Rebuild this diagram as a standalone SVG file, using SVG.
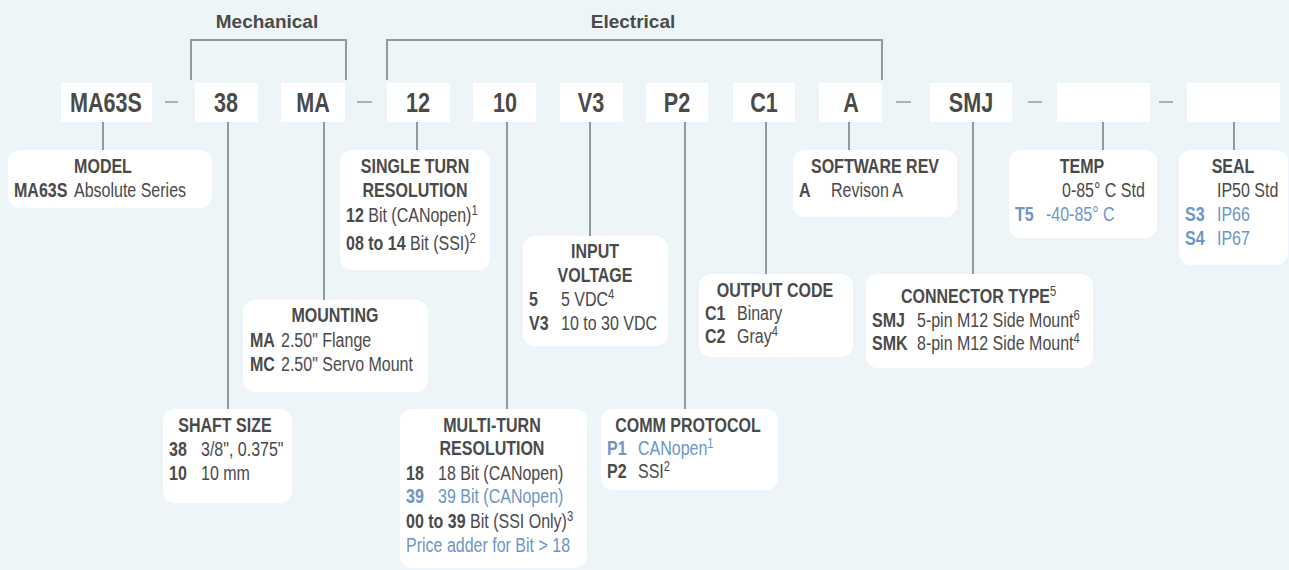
<svg xmlns="http://www.w3.org/2000/svg" width="1289" height="570" viewBox="0 0 1289 570">
<style>
text{font-family:"Liberation Sans",Arial,sans-serif;fill:#4a4a4a;font-size:20px}
.h{font-weight:bold;font-size:19px;text-anchor:middle}
.c{font-weight:bold;font-size:27px;text-anchor:middle}
.t{font-weight:bold;text-anchor:middle}
.k{font-weight:bold}
.bl{fill:#6d95c6}
.s{font-size:14px;font-weight:normal}
.box{fill:#ffffff}
.ln{stroke:#8c9d9d;stroke-width:2;fill:none}
.d{stroke:#a7b5b5;stroke-width:2}
</style>
<rect width="1289" height="570" fill="#edf5f8"/>
<g id="headers">
<text class="h" x="267" y="28">Mechanical</text>
<text class="h" x="633" y="28">Electrical</text>
</g>
<g id="connectors">
<path class="ln" d="M191,80V40H346V80"/>
<path class="ln" d="M387,80V40H882V80"/>
<line class="ln" x1="103" y1="122" x2="103" y2="150"/>
<line class="ln" x1="228" y1="122" x2="228" y2="409"/>
<line class="ln" x1="324" y1="122" x2="324" y2="300"/>
<line class="ln" x1="417" y1="122" x2="417" y2="150"/>
<line class="ln" x1="507" y1="122" x2="507" y2="409"/>
<line class="ln" x1="590" y1="122" x2="590" y2="236"/>
<line class="ln" x1="685" y1="122" x2="685" y2="409"/>
<line class="ln" x1="766" y1="122" x2="766" y2="274"/>
<line class="ln" x1="849" y1="122" x2="849" y2="150"/>
<line class="ln" x1="973" y1="122" x2="973" y2="274"/>
<line class="ln" x1="1103" y1="122" x2="1103" y2="150"/>
<line class="ln" x1="1234" y1="122" x2="1234" y2="150"/>
<line class="d" x1="165" y1="102" x2="178" y2="102"/>
<line class="d" x1="357" y1="102" x2="372" y2="102"/>
<line class="d" x1="896" y1="102" x2="911" y2="102"/>
<line class="d" x1="1028" y1="102" x2="1042" y2="102"/>
<line class="d" x1="1159" y1="102" x2="1173" y2="102"/>
</g>
<g id="code-MA63S"><rect class="box" x="61" y="83" width="91" height="39"/><text class="c" transform="scale(0.8,1)" x="132.5" y="112">MA63S</text></g>
<g id="code-38"><rect class="box" x="195" y="83" width="63" height="39"/><text class="c" transform="scale(0.8,1)" x="282.5" y="112">38</text></g>
<g id="code-MA"><rect class="box" x="281" y="83" width="64" height="39"/><text class="c" transform="scale(0.8,1)" x="391.25" y="112">MA</text></g>
<g id="code-12"><rect class="box" x="387" y="83" width="63" height="39"/><text class="c" transform="scale(0.8,1)" x="522.5" y="112">12</text></g>
<g id="code-10"><rect class="box" x="473" y="83" width="63" height="39"/><text class="c" transform="scale(0.8,1)" x="631.25" y="112">10</text></g>
<g id="code-V3"><rect class="box" x="560" y="83" width="63" height="39"/><text class="c" transform="scale(0.8,1)" x="738.75" y="112">V3</text></g>
<g id="code-P2"><rect class="box" x="646" y="83" width="62" height="39"/><text class="c" transform="scale(0.8,1)" x="846.25" y="112">P2</text></g>
<g id="code-C1"><rect class="box" x="733" y="83" width="62" height="39"/><text class="c" transform="scale(0.8,1)" x="955" y="112">C1</text></g>
<g id="code-A"><rect class="box" x="819" y="83" width="63" height="39"/><text class="c" transform="scale(0.8,1)" x="1063.75" y="112">A</text></g>
<g id="code-SMJ"><rect class="box" x="930" y="83" width="82" height="39"/><text class="c" transform="scale(0.8,1)" x="1213.75" y="112">SMJ</text></g>
<g id="code-blank1"><rect class="box" x="1057" y="83" width="93" height="39"/></g>
<g id="code-blank2"><rect class="box" x="1187" y="83" width="93" height="39"/></g>

<g id="model"><rect class="box" x="8" y="150" width="204" height="58" rx="12"/>
<g transform="scale(0.8,1)">
<text class="t" x="128.75" y="173">MODEL</text>
<text class="k" x="17.5" y="197">MA63S</text><text x="92.5" y="197">Absolute Series</text></g></g>

<g id="single-turn"><rect class="box" x="340" y="150" width="150" height="120" rx="12"/>
<g transform="scale(0.8,1)">
<text class="t" x="518.75" y="173">SINGLE TURN</text>
<text class="t" x="518.75" y="197">RESOLUTION</text>
<text x="432.5" y="222"><tspan class="k">12</tspan> Bit (CANopen)<tspan class="s" dy="-7">1</tspan></text>
<text x="432.5" y="250"><tspan class="k">08 to 14</tspan> Bit (SSI)<tspan class="s" dy="-7">2</tspan></text></g></g>

<g id="software-rev"><rect class="box" x="793" y="150" width="164" height="67" rx="12"/>
<g transform="scale(0.8,1)">
<text class="t" x="1093.75" y="173">SOFTWARE REV</text>
<text class="k" x="998.75" y="197">A</text><text x="1038.75" y="197">Revison A</text></g></g>

<g id="temp"><rect class="box" x="1009" y="150" width="148" height="88" rx="12"/>
<g transform="scale(0.8,1)">
<text class="t" x="1352.5" y="173">TEMP</text>
<text x="1327.5" y="197">0-85° C Std</text>
<text class="k bl" x="1268.75" y="221">T5</text><text class="bl" x="1307.5" y="221">-40-85° C</text></g></g>

<g id="seal"><rect class="box" x="1179" y="150" width="109" height="115" rx="12"/>
<g transform="scale(0.8,1)">
<text class="t" x="1541.25" y="173">SEAL</text>
<text x="1521.25" y="197">IP50 Std</text>
<text class="k bl" x="1481.25" y="221">S3</text><text class="bl" x="1521.25" y="221">IP66</text>
<text class="k bl" x="1481.25" y="245">S4</text><text class="bl" x="1521.25" y="245">IP67</text></g></g>

<g id="input-voltage"><rect class="box" x="523" y="236" width="145" height="110" rx="12"/>
<g transform="scale(0.8,1)">
<text class="t" x="743.75" y="258">INPUT</text>
<text class="t" x="743.75" y="282">VOLTAGE</text>
<text class="k" x="661.25" y="306">5</text><text x="701.25" y="306">5 VDC<tspan class="s" dy="-7">4</tspan></text>
<text class="k" x="661.25" y="330">V3</text><text x="701.25" y="330">10 to 30 VDC</text></g></g>

<g id="output-code"><rect class="box" x="699" y="274" width="154" height="83" rx="12"/>
<g transform="scale(0.8,1)">
<text class="t" x="968.75" y="297">OUTPUT CODE</text>
<text class="k" x="881.25" y="320">C1</text><text x="921.25" y="320">Binary</text>
<text class="k" x="881.25" y="343">C2</text><text x="921.25" y="343">Gray<tspan class="s" dy="-7">4</tspan></text></g></g>

<g id="connector-type"><rect class="box" x="866" y="274" width="227" height="94" rx="12"/>
<g transform="scale(0.8,1)">
<text class="k" x="1126.25" y="303">CONNECTOR TYPE<tspan class="s" dy="-7">5</tspan></text>
<text class="k" x="1090" y="327">SMJ</text><text x="1146.25" y="327">5-pin M12 Side Mount<tspan class="s" dy="-7">6</tspan></text>
<text class="k" x="1090" y="350">SMK</text><text x="1146.25" y="350">8-pin M12 Side Mount<tspan class="s" dy="-7">4</tspan></text></g></g>

<g id="mounting"><rect class="box" x="243" y="300" width="185" height="92" rx="12"/>
<g transform="scale(0.8,1)">
<text class="t" x="418.75" y="322">MOUNTING</text>
<text class="k" x="312.5" y="347">MA</text><text x="351.25" y="347">2.50" Flange</text>
<text class="k" x="312.5" y="371">MC</text><text x="351.25" y="371">2.50" Servo Mount</text></g></g>

<g id="shaft-size"><rect class="box" x="163" y="409" width="129" height="94" rx="12"/>
<g transform="scale(0.8,1)">
<text class="t" x="281.25" y="432">SHAFT SIZE</text>
<text class="k" x="211.25" y="456">38</text><text x="251.25" y="456">3/8", 0.375"</text>
<text class="k" x="211.25" y="480">10</text><text x="251.25" y="480">10 mm</text></g></g>

<g id="multi-turn"><rect class="box" x="400" y="409" width="187" height="159" rx="12"/>
<g transform="scale(0.8,1)">
<text class="t" x="615" y="432">MULTI-TURN</text>
<text class="t" x="615" y="455">RESOLUTION</text>
<text class="k" x="507.5" y="480">18</text><text x="547.5" y="480">18 Bit (CANopen)</text>
<text class="k bl" x="507.5" y="503">39</text><text class="bl" x="547.5" y="503">39 Bit (CANopen)</text>
<text x="507.5" y="528"><tspan class="k">00 to 39</tspan> Bit (SSI Only)<tspan class="s" dy="-7">3</tspan></text>
<text class="bl" x="507.5" y="552">Price adder for Bit &gt; 18</text></g></g>

<g id="comm-protocol"><rect class="box" x="601" y="409" width="177" height="81" rx="12"/>
<g transform="scale(0.8,1)">
<text class="t" x="860" y="432">COMM PROTOCOL</text>
<text class="k bl" x="758.75" y="455">P1</text><text class="bl" x="797.5" y="455">CANopen<tspan class="s" dy="-7">1</tspan></text>
<text class="k" x="758.75" y="478">P2</text><text x="797.5" y="478">SSI<tspan class="s" dy="-7">2</tspan></text></g></g>
</svg>
